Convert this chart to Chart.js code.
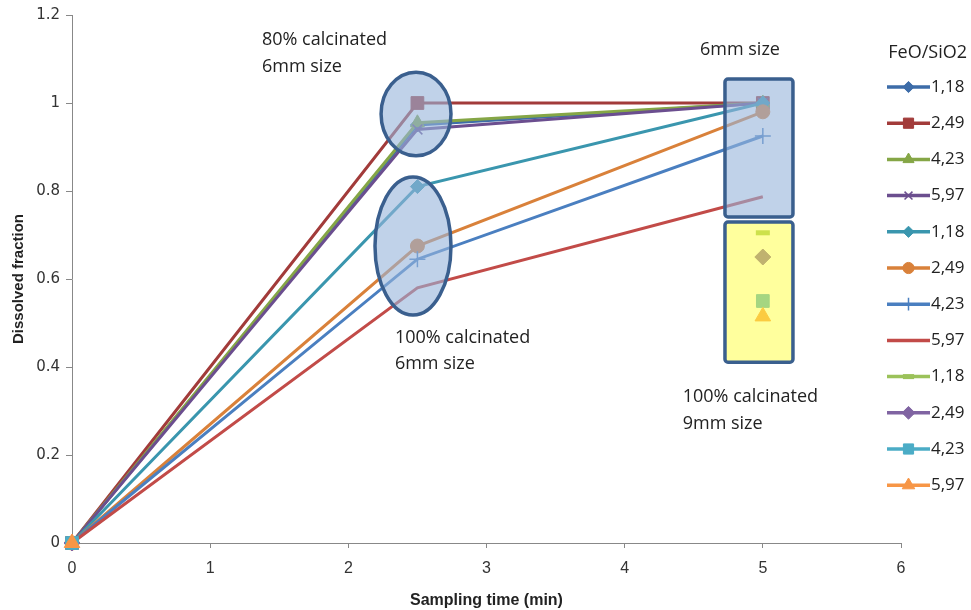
<!doctype html>
<html>
<head>
<meta charset="utf-8">
<title>Dissolved fraction</title>
<script src="https://cdn.jsdelivr.net/npm/chart.js"></script>
<style>
  body { margin: 0; background: #fff; }
  #wrap { width: 971px; height: 610px; }
</style>
</head>
<body>
<div id="wrap"><canvas id="myChart" width="971" height="610"></canvas></div>
<script>
// sampling times (min)
const times = [0, 2.5, 5];

// legend labels (FeO/SiO2)
const labels = ['1,18', '2,49', '4,23', '5,97', '1,18', '2,49', '4,23', '5,97', '1,18', '2,49', '4,23', '5,97'];

// 80% calcinated, 6mm
const s1 = [0, 0.95, 1.0];
const s2 = [0, 1.0, 1.0];
const s3 = [0, 0.955, 1.0];
const s4 = [0, 0.94, 1.0];
// 100% calcinated, 6mm
const s5 = [0, 0.81, 1.0];
const s6 = [0, 0.675, 0.98];
const s7 = [0, 0.645, 0.925];
const s8 = [0, 0.58, 0.787];
// 100% calcinated, 9mm
const s9 = [0, null, 0.705];
const s10 = [0, null, 0.65];
const s11 = [0, null, 0.55];
const s12 = [0, null, 0.515];

const series = [s1, s2, s3, s4, s5, s6, s7, s8, s9, s10, s11, s12];

const colors = ['#3D6CA8', '#A23B3A', '#85A646', '#6B4E8F', '#3A96AE', '#D9813A',
                '#4A7FC0', '#C24B48', '#9BC25A', '#8064A2', '#4BACC6', '#F79646'];
const markers = ['rectRot', 'rect', 'triangle', 'crossRot', 'rectRot', 'circle',
                 'cross', false, 'line', 'rectRot', 'rect', 'triangle'];
const sizes = [7, 9, 8, 7, 7, 7, 8, 0, 7, 8, 9, 9];

const datasets = series.map((vals, i) => ({
  label: labels[i],
  data: vals.map((v, j) => ({ x: times[j], y: v })),
  borderColor: colors[i],
  backgroundColor: colors[i],
  borderWidth: 3,
  pointStyle: markers[i] || 'circle',
  pointRadius: sizes[i],
  pointBorderWidth: markers[i] === 'line' ? 5 : (markers[i] === 'cross' || markers[i] === 'crossRot' ? 1.5 : 1),
  pointBorderColor: colors[i],
  pointBackgroundColor: colors[i],
  spanGaps: false,
  clip: false,
  order: 20 - i
}));

// shapes drawn over the plot, in data units
const ellipses = [
  { cx: 2.49, cy: 0.975, rx: 0.253, ry: 0.095 },
  { cx: 2.468, cy: 0.675, rx: 0.275, ry: 0.157 }
];
const boxes = [
  { x0: 4.726, x1: 5.218, y0: 1.0545, y1: 0.741, fill: 'rgba(150,180,218,0.6)' },
  { x0: 4.726, x1: 5.218, y0: 0.7295, y1: 0.411, fill: 'rgba(255,255,60,0.5)' }
];
const notes = [
  { x: 1.375, y: 1.143, text: '80% calcinated' },
  { x: 1.375, y: 1.082, text: '6mm size' },
  { x: 4.545, y: 1.12, text: '6mm size' },
  { x: 2.337, y: 0.466, text: '100% calcinated' },
  { x: 2.337, y: 0.407, text: '6mm size' },
  { x: 4.42, y: 0.332, text: '100% calcinated' },
  { x: 4.42, y: 0.27, text: '9mm size' }
];

const overlay = {
  id: 'overlay',
  afterDatasetsDraw(chart) {
    const { ctx, scales: { x, y } } = chart;
    ctx.save();
    ctx.lineWidth = 3.5;
    ctx.strokeStyle = '#3A5F8E';
    ellipses.forEach(e => {
      const cx = x.getPixelForValue(e.cx), cy = y.getPixelForValue(e.cy);
      const rx = x.getPixelForValue(e.cx + e.rx) - cx;
      const ry = cy - y.getPixelForValue(e.cy + e.ry);
      ctx.beginPath();
      ctx.ellipse(cx, cy, rx, ry, 0, 0, Math.PI * 2);
      ctx.fillStyle = 'rgba(150,180,218,0.6)';
      ctx.fill();
      ctx.stroke();
    });
    boxes.forEach(b => {
      const l = x.getPixelForValue(b.x0), r = x.getPixelForValue(b.x1);
      const t = y.getPixelForValue(b.y0), bt = y.getPixelForValue(b.y1);
      ctx.beginPath();
      ctx.roundRect(l, t, r - l, bt - t, 3);
      ctx.fillStyle = b.fill;
      ctx.fill();
      ctx.stroke();
    });
    ctx.fillStyle = '#222';
    ctx.font = '18px "Open Sans"';
    ctx.textBaseline = 'middle';
    ctx.textAlign = 'left';
    notes.forEach(n => {
      ctx.fillText(n.text, x.getPixelForValue(n.x), y.getPixelForValue(n.y));
    });
    ctx.restore();
  },
  afterDraw(chart) {
    // legend on the right
    const { ctx } = chart;
    ctx.save();
    ctx.fillStyle = '#222';
    ctx.font = '18px "Open Sans"';
    ctx.textBaseline = 'middle';
    ctx.textAlign = 'right';
    ctx.fillText('FeO/SiO2', 967, 53);
    ctx.textAlign = 'left';
    ctx.font = '17px "Open Sans"';
    chart.data.datasets.forEach((ds, i) => {
      const yy = 87 + i * 36.2;
      ctx.strokeStyle = ds.borderColor;
      ctx.lineWidth = 3.5;
      ctx.beginPath();
      ctx.moveTo(887, yy);
      ctx.lineTo(930, yy);
      ctx.stroke();
      if (markers[i] && Chart.helpers && Chart.helpers.drawPoint) {
        ctx.fillStyle = ds.pointBackgroundColor;
        ctx.strokeStyle = ds.pointBorderColor;
        ctx.lineWidth = ds.pointBorderWidth;
        Chart.helpers.drawPoint(ctx, { pointStyle: markers[i], radius: sizes[i] * 0.8, rotation: 0, borderWidth: ds.pointBorderWidth }, 908.5, yy);
      }
      ctx.fillStyle = '#222';
      ctx.fillText(ds.label, 931, yy);
    });
    ctx.restore();
  }
};

new Chart(document.getElementById('myChart'), {
  type: 'line',
  data: { datasets: datasets },
  plugins: [overlay],
  options: {
    responsive: false,
    animation: false,
    layout: { padding: { left: 8, right: 70, top: 15, bottom: 0 } },
    plugins: { legend: { display: false }, tooltip: { enabled: false } },
    scales: {
      x: {
        type: 'linear',
        min: 0, max: 6,
        afterFit(s) { s.height = 67; },
        ticks: { stepSize: 1, color: '#333', font: { family: '"Liberation Sans Narrow", "Liberation Sans"', size: 16 }, padding: 11 },
        grid: { drawOnChartArea: false, drawTicks: true, tickLength: 5, color: '#888' },
        border: { color: '#888', width: 1 },
        title: { display: true, text: 'Sampling time (min)', color: '#222', font: { family: '"Liberation Sans Narrow", "Liberation Sans"', size: 16, weight: 'bold' }, padding: { top: 4, bottom: 0 } }
      },
      y: {
        min: 0, max: 1.2,
        afterFit(s) { s.width = 64; },
        ticks: {
          stepSize: 0.2, color: '#333', padding: 6,
          font: { family: '"DejaVu Sans"', size: 15 },
          callback: v => String(parseFloat(v.toFixed(1)))
        },
        grid: { drawOnChartArea: false, drawTicks: true, tickLength: 6, color: '#888' },
        border: { color: '#888', width: 1 },
        title: { display: true, text: 'Dissolved fraction', color: '#222', font: { family: '"Liberation Sans Narrow", "Liberation Sans"', size: 15, weight: 'bold' }, padding: { top: 2, bottom: 0 } }
      }
    }
  }
});
</script>
</body>
</html>
